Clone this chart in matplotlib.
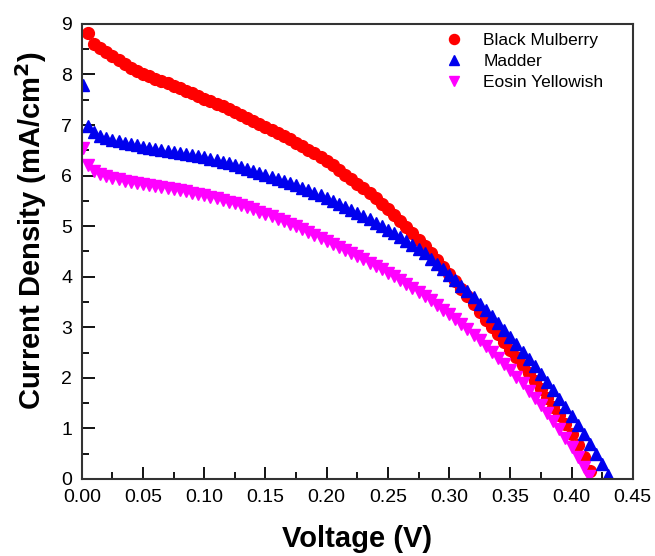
import matplotlib
matplotlib.use("Agg")
import matplotlib.pyplot as plt
from matplotlib.ticker import MultipleLocator

plt.rcParams['font.family'] = ['Liberation Sans', 'DejaVu Sans']

# Black Mulberry
v_mulberry = [0.005, 0.010, 0.015, 0.020, 0.025, 0.030, 0.035, 0.040, 0.045, 0.050,
              0.055, 0.060, 0.065, 0.070, 0.075, 0.080, 0.085, 0.090, 0.095, 0.100,
              0.105, 0.110, 0.115, 0.120, 0.125, 0.130, 0.135, 0.140, 0.145, 0.150,
              0.155, 0.160, 0.165, 0.170, 0.175, 0.180, 0.185, 0.190, 0.195, 0.200,
              0.205, 0.210, 0.215, 0.220, 0.225, 0.230, 0.235, 0.240, 0.245, 0.250,
              0.255, 0.260, 0.265, 0.270, 0.275, 0.280, 0.285, 0.290, 0.295, 0.300,
              0.305, 0.310, 0.315, 0.320, 0.325, 0.330, 0.335, 0.340, 0.345, 0.350,
              0.355, 0.360, 0.365, 0.370, 0.375, 0.380, 0.385, 0.390, 0.395, 0.400,
              0.405, 0.410, 0.415]
j_mulberry = [8.82, 8.60, 8.52, 8.44, 8.36, 8.28, 8.21, 8.13, 8.06, 8.00,
              7.96, 7.92, 7.88, 7.83, 7.78, 7.73, 7.68, 7.63, 7.57, 7.52,
              7.47, 7.42, 7.37, 7.31, 7.26, 7.20, 7.14, 7.08, 7.02, 6.96,
              6.90, 6.84, 6.78, 6.72, 6.65, 6.58, 6.51, 6.44, 6.36, 6.28,
              6.20, 6.11, 6.02, 5.93, 5.84, 5.75, 5.65, 5.55, 5.44, 5.33,
              5.22, 5.10, 4.98, 4.86, 4.73, 4.60, 4.47, 4.33, 4.19, 4.05,
              3.91, 3.76, 3.61, 3.46, 3.30, 3.14, 3.00, 2.86, 2.71, 2.56,
              2.41, 2.26, 2.10, 1.94, 1.77, 1.60, 1.43, 1.26, 1.08, 0.89,
              0.67, 0.43, 0.15]

# Madder
v_madder = [0.001, 0.005, 0.010, 0.015, 0.020, 0.025, 0.030, 0.035, 0.040, 0.045, 0.050,
            0.055, 0.060, 0.065, 0.070, 0.075, 0.080, 0.085, 0.090, 0.095, 0.100,
            0.105, 0.110, 0.115, 0.120, 0.125, 0.130, 0.135, 0.140, 0.145, 0.150,
            0.155, 0.160, 0.165, 0.170, 0.175, 0.180, 0.185, 0.190, 0.195, 0.200,
            0.205, 0.210, 0.215, 0.220, 0.225, 0.230, 0.235, 0.240, 0.245, 0.250,
            0.255, 0.260, 0.265, 0.270, 0.275, 0.280, 0.285, 0.290, 0.295, 0.300,
            0.305, 0.310, 0.315, 0.320, 0.325, 0.330, 0.335, 0.340, 0.345, 0.350,
            0.355, 0.360, 0.365, 0.370, 0.375, 0.380, 0.385, 0.390, 0.395, 0.400,
            0.405, 0.410, 0.415, 0.420, 0.425, 0.430]
j_madder = [7.80, 6.98, 6.86, 6.79, 6.75, 6.71, 6.68, 6.65, 6.62, 6.60, 6.57,
            6.55, 6.53, 6.51, 6.49, 6.47, 6.45, 6.43, 6.41, 6.38, 6.36,
            6.33, 6.30, 6.27, 6.24, 6.21, 6.18, 6.14, 6.10, 6.06, 6.02,
            5.98, 5.94, 5.90, 5.86, 5.81, 5.76, 5.71, 5.66, 5.61, 5.56,
            5.50, 5.44, 5.38, 5.32, 5.26, 5.20, 5.14, 5.07, 5.00, 4.93,
            4.86, 4.79, 4.71, 4.63, 4.55, 4.46, 4.36, 4.26, 4.15, 4.04,
            3.93, 3.82, 3.71, 3.59, 3.47, 3.35, 3.22, 3.09, 2.95, 2.81,
            2.67, 2.52, 2.38, 2.23, 2.08, 1.92, 1.76, 1.59, 1.42, 1.25,
            1.07, 0.89, 0.70, 0.50, 0.29, 0.07]

# Eosin Yellowish
v_eosin = [0.001, 0.005, 0.010, 0.015, 0.020, 0.025, 0.030, 0.035, 0.040, 0.045, 0.050,
           0.055, 0.060, 0.065, 0.070, 0.075, 0.080, 0.085, 0.090, 0.095, 0.100,
           0.105, 0.110, 0.115, 0.120, 0.125, 0.130, 0.135, 0.140, 0.145, 0.150,
           0.155, 0.160, 0.165, 0.170, 0.175, 0.180, 0.185, 0.190, 0.195, 0.200,
           0.205, 0.210, 0.215, 0.220, 0.225, 0.230, 0.235, 0.240, 0.245, 0.250,
           0.255, 0.260, 0.265, 0.270, 0.275, 0.280, 0.285, 0.290, 0.295, 0.300,
           0.305, 0.310, 0.315, 0.320, 0.325, 0.330, 0.335, 0.340, 0.345, 0.350,
           0.355, 0.360, 0.365, 0.370, 0.375, 0.380, 0.385, 0.390, 0.395, 0.400,
           0.405, 0.410, 0.414]
j_eosin = [6.55, 6.21, 6.10, 6.03, 5.99, 5.96, 5.93, 5.90, 5.88, 5.86, 5.84,
           5.82, 5.80, 5.78, 5.76, 5.74, 5.71, 5.69, 5.66, 5.64, 5.61,
           5.58, 5.55, 5.52, 5.48, 5.45, 5.41, 5.37, 5.33, 5.29, 5.25,
           5.20, 5.15, 5.10, 5.05, 5.00, 4.94, 4.89, 4.83, 4.77, 4.71,
           4.65, 4.59, 4.53, 4.47, 4.41, 4.35, 4.28, 4.22, 4.15, 4.08,
           4.01, 3.94, 3.86, 3.78, 3.70, 3.62, 3.53, 3.44, 3.35, 3.26,
           3.16, 3.06, 2.96, 2.85, 2.74, 2.63, 2.51, 2.39, 2.27, 2.15,
           2.02, 1.89, 1.75, 1.61, 1.46, 1.31, 1.15, 0.98, 0.81, 0.63,
           0.44, 0.24, 0.05]

fig = plt.figure(figsize=(6.55, 5.56), dpi=100)
ax = fig.add_axes([0.125, 0.1385, 0.841, 0.8185])

ax.plot(v_mulberry, j_mulberry, 'o', color='#ff0000', markersize=8.5, linestyle='none', label='Black Mulberry')
ax.plot(v_madder, j_madder, '^', color='#0000ee', markersize=8.5, linestyle='none', label='Madder')
ax.plot(v_eosin, j_eosin, 'v', color='#ff00ff', markersize=8.5, linestyle='none', label='Eosin Yellowish')

ax.set_xlim(0, 0.45)
ax.set_ylim(0, 9)
ax.xaxis.set_major_locator(MultipleLocator(0.05))
ax.xaxis.set_minor_locator(MultipleLocator(0.025))
ax.yaxis.set_major_locator(MultipleLocator(1))
ax.yaxis.set_minor_locator(MultipleLocator(0.5))
ax.xaxis.set_major_formatter(plt.FormatStrFormatter('%.2f'))

ax.tick_params(which='both', direction='in', top=False, right=False, labelsize=14, width=1.3)
ax.tick_params(which='major', length=9, pad=7)
ax.tick_params(which='minor', length=5)
for s in ax.spines.values():
    s.set_linewidth(1.5)
    s.set_color('#333333')

ax.set_xlabel('Voltage (V)', fontsize=21, fontweight='bold', labelpad=14)
ax.set_ylabel('Current Density (mA/cm$^\\mathbf{2}$)', fontsize=21, fontweight='bold')
ax.yaxis.set_label_coords(-0.06, 0.545)

ax.legend(loc='upper right', bbox_to_anchor=(0.975, 1.015), frameon=False, fontsize=12.5,
          handletextpad=0.7, labelspacing=0.35, markerscale=0.85)

plt.savefig("out.png", dpi=100)
